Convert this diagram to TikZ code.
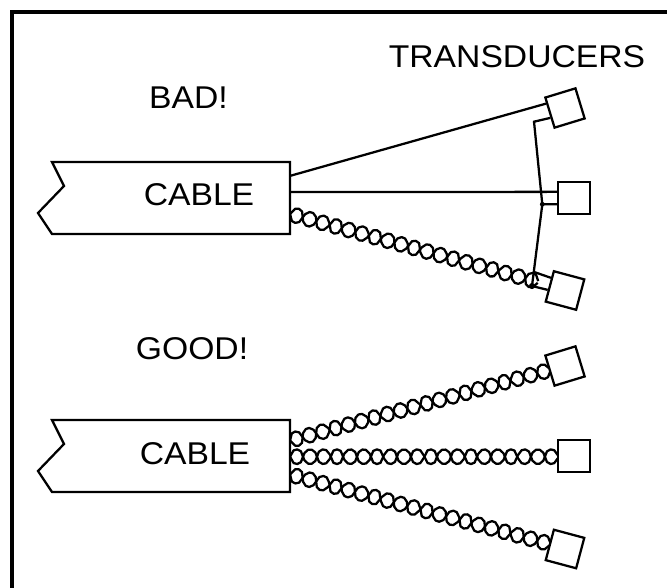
\documentclass[tikz,border=0pt]{standalone}
\usepackage{fontspec}
\setmainfont{Liberation Sans}[FakeStretch=1.07]
\usetikzlibrary{shapes.geometric,calc}
\tikzset{
  wire/.style={line width=1.7pt,line join=miter},
  frameline/.style={line width=3.6pt},
  cablebox/.style={line width=1.7pt,fill=white,line join=miter},
  strand/.style={line width=1.7pt,line join=round},
  transducer/.style={draw,line width=1.7pt,fill=white,minimum size=23.6pt,inner sep=0pt},
  label/.style={inner sep=0pt,anchor=base,font=\fontsize{23.6pt}{26pt}\selectfont},
  junction/.style={circle,fill=black,inner sep=0pt,minimum size=#1},
  declare function={bulge(\u)=sign(sin(\u))*sqrt(abs(sin(\u)));}
}
% twisted pair from #1 to #2: two coarsely sampled rounded strands, #3 half-periods, #4 samples
\newcommand{\twistedpair}[4]{%
  \coordinate (tpn) at ($(#1)!5.5pt!90:(#2)$);
  \draw[strand] plot[domain=0:1,samples=#4,variable=\t]
    ({$(#1)!\t!(#2) + {bulge(\t*#3*180)}*(tpn) - {bulge(\t*#3*180)}*(#1)$});
  \draw[strand] plot[domain=0:1,samples=#4,variable=\t]
    ({$(#1)!\t!(#2) - {bulge(\t*#3*180)}*(tpn) + {bulge(\t*#3*180)}*(#1)$});
}
\begin{document}
\begin{tikzpicture}[x=0.75pt,y=-0.75pt]
\useasboundingbox (0,0) rectangle (667,588);
\draw[frameline] (12,588) -- (12,12) -- (667,12);

% anchor points
\coordinate (c1a) at (290.7,175.7);
\coordinate (c1b) at (290,192);
\coordinate (s1a) at (290,213.9);
\coordinate (s1b) at (538,282);
\coordinate (e1) at (534,121.7);
\coordinate (e2) at (533.3,271.7);
\coordinate (g1a) at (290,440.5);
\coordinate (g1b) at (550,369.9);
\coordinate (g2a) at (290,456.7);
\coordinate (g2b) at (558,456.7);
\coordinate (g3a) at (290,474.5);
\coordinate (g3b) at (550,544);

% twisted pairs
\twistedpair{s1a}{s1b}{19}{71}
\twistedpair{g1a}{g1b}{20}{75}
\twistedpair{g2a}{g2b}{20}{75}
\twistedpair{g3a}{g3b}{20}{75}

% cables
\draw[cablebox] (52,162) -- (290,162) -- (290,234) -- (52,234) -- (38,213) -- (64,186) -- cycle;
\draw[cablebox] (52,420) -- (290,420) -- (290,492) -- (52,492) -- (38,471) -- (64,444) -- cycle;

% transducers
\node[transducer,rotate=17] (t1) at (565,108) {};
\node[transducer] (t2) at (574,198) {};
\node[transducer,rotate=-15] (t3) at (565,290.5) {};
\node[transducer,rotate=17] (t4) at (565,366) {};
\node[transducer] (t5) at (574,456) {};
\node[transducer,rotate=-15] (t6) at (565,549) {};

% junctions
\node[junction=3.6pt] (j1) at (542.3,204.3) {};
\node[junction=4.6pt] (j2) at (532,286) {};

% wires
\draw[wire] (c1a) -- (t1.150);
\draw[wire] (c1b) -- (t2.160);
\draw[wire] (t1.197) -- (e1) -- (j1.center) -- (j2.center) -- (t3.193);
\draw[wire] (j1.center) -- (t2.200);
\draw[wire] (e2) -- (t3.153);

% labels
\node[label] (lt) at (517,68) {TRANSDUCERS};
\node[label] (lb) at (188.5,109) {BAD!};
\node[label] (l1) at (199,205) {CABLE};
\node[label] (lg) at (192,359) {GOOD!};
\node[label] (l2) at (195,464) {CABLE};
\end{tikzpicture}
\end{document}
